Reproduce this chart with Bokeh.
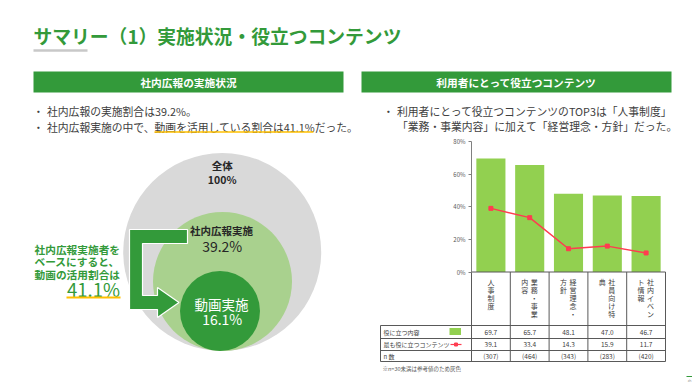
from bokeh.plotting import figure
from bokeh.models import Range1d, LinearAxis, FixedTicker, PrintfTickFormatter
from bokeh.embed import file_html
from bokeh.resources import INLINE
from bokeh.core.properties import value

# ---------------- data ----------------
categories = ["人事制度", "業務・事業内容", "経営理念・方針", "社員向け特典", "社内イベント情報"]
useful = [69.7, 65.7, 48.1, 47.0, 46.7]
most_useful = [39.1, 33.4, 14.3, 15.9, 11.7]
n_counts = [307, 464, 343, 283, 420]
y_ticks = [0, 20, 40, 60, 80]
row_labels = ["役に立つ内容", "最も役に立つコンテンツ", "n 数"]
overall_pct = 100
pr_pct = 39.2
video_pct = 16.1
video_share = 41.1

# ---------------- style ----------------
FONT = value("Noto Sans CJK JP")
GREEN = "#339a3a"
LIGHT_GREEN = "#a9d18e"
GRAY_CIRCLE = "#d9d9d9"
BAR_GREEN = "#92d050"
RED = "#ff3c50"
ORANGE = "#ffc000"
TXT = "#404040"

PW, PH = 692, 382
p = figure(width=PW, height=PH, x_range=Range1d(0, PW), y_range=Range1d(PH, 0),
           output_backend="svg", toolbar_location=None,
           x_axis_location=None, y_axis_location=None, min_border=0,
           outline_line_color=None, background_fill_color="white")
p.grid.visible = False

def txt(x, y, s, size, color=TXT, align="left", bold=False, baseline="middle", **kw):
    p.text(x=[x], y=[y], text=[s], text_font=FONT, text_font_size=f"{size}px",
           text_color=color, text_align=align, text_baseline=baseline,
           text_font_style="bold" if bold else "normal", **kw)

# ---------------- header ----------------
txt(33, 35, "サマリー（1）実施状況・役立つコンテンツ", 18.8, color=GREEN, bold=True)
p.segment(x0=[33], y0=[50], x1=[87], y1=[50], line_color="#c8c8c8", line_width=2.5)

p.quad(left=[33, 361], right=[343, 671], top=[71, 71], bottom=[92, 92],
       fill_color=GREEN, line_color=None)
txt(188, 81.5, "社内広報の実施状況", 10.7, color="white", align="center", bold=True)
txt(516, 81.5, "利用者にとって役立つコンテンツ", 10.7, color="white", align="center", bold=True)

# bullets left
txt(38, 110, "・", 10.8, align="center")
txt(46.5, 110, f"社内広報の実施割合は{pr_pct}%。", 10.8)
txt(38, 126, "・", 10.8, align="center")
txt(46.5, 126, f"社内広報実施の中で、動画を活用している割合は{video_share}%だった。", 10.8)
p.segment(x0=[154], y0=[131.5], x1=[313], y1=[131.5], line_color=ORANGE, line_width=1.3)

# bullets right
txt(388, 110, "・", 10.8, align="center")
txt(396.5, 110, "利用者にとって役立つコンテンツのTOP3は「人事制度」", 10.8)
txt(396.5, 125.5, "「業務・事業内容」に加えて「経営理念・方針」だった。", 10.8)

# ---------------- left: nested circles ----------------
p.circle(x=[221.7], y=[251.5], radius=99, fill_color=GRAY_CIRCLE, line_color=None)
p.circle(x=[222], y=[281], radius=69.5, fill_color=LIGHT_GREEN, line_color=None)
p.circle(x=[219.5], y=[310.5], radius=40, fill_color=GREEN, line_color=None)

# elbow arrow
ax = [129, 187, 187, 142, 142, 157, 157, 178.5, 157, 157, 129]
ay = [229, 229, 243, 243, 295, 295, 287, 302, 317, 309, 309]
p.patch(ax, ay, fill_color=GREEN, line_color="white", line_width=1.2)

txt(221.7, 165, "全体", 10.5, color="#262626", align="center", bold=True)
txt(221.7, 178.5, f"{overall_pct}%", 10.5, color="#262626", align="center", bold=True)
txt(221, 229.5, "社内広報実施", 10.5, color="#262626", align="center", bold=True)
txt(221.7, 245, f"{pr_pct}%", 14, color="#262626", align="center")
txt(221, 303, "動画実施", 13.5, color="white", align="center")
txt(221.7, 318.5, f"{video_pct}%", 14, color="white", align="center")

txt(34, 248.5, "社内広報実施者を", 10.7, color=GREEN, bold=True)
txt(34, 261, "ベースにすると、", 10.7, color=GREEN, bold=True)
txt(34, 273.5, "動画の活用割合は", 10.7, color=GREEN, bold=True)
txt(66.5, 288, f"{video_share}%", 18.5, color=GREEN)
p.segment(x0=[66], y0=[297], x1=[120], y1=[297], line_color=ORANGE, line_width=2)

# ---------------- right: bar chart ----------------
AX_LEFT = 471.0
SLOT = 38.8
PY0, PY80 = 271.5, 141.3
cx0 = AX_LEFT + SLOT / 2
ppu = (PY0 - PY80) / 80.0
p.extra_x_ranges = {"cat": Range1d((0 - cx0) / SLOT, (PW - cx0) / SLOT)}
p.extra_y_ranges = {"pct": Range1d((PY0 - PH) / ppu, (PY0 - 0) / ppu)}

idx = list(range(len(categories)))
p.vbar(x=idx, top=useful, bottom=0, width=0.75, x_range_name="cat", y_range_name="pct",
       fill_color=BAR_GREEN, line_color=None)
p.line(x=idx, y=most_useful, x_range_name="cat", y_range_name="pct",
       line_color=RED, line_width=1.5)
p.scatter(x=idx, y=most_useful, x_range_name="cat", y_range_name="pct",
          marker="square", size=4, fill_color=RED, line_color=RED)

yax = LinearAxis(y_range_name="pct", fixed_location=AX_LEFT,
                 ticker=FixedTicker(ticks=y_ticks),
                 formatter=PrintfTickFormatter(format="%d%%"), bounds=(0, 80))
yax.major_label_text_font_size = "6px"
yax.major_label_text_color = "#595959"
yax.major_label_text_font = "Noto Sans CJK JP"
yax.axis_line_color = "#808080"
yax.major_tick_line_color = "#808080"
yax.major_tick_out = 3
yax.major_tick_in = 0
yax.minor_tick_out = 0
yax.minor_tick_in = 0
yax.major_label_standoff = 3
p.add_layout(yax, "left")

# ---------------- table ----------------
TL, TR = 380, 665
ROW_Y = [325, 338, 350, 361]
LINE = "#595959"
p.segment(x0=[AX_LEFT], y0=[PY0], x1=[TR], y1=[PY0], line_color=LINE, line_width=1)
p.segment(x0=[TL] * 4, y0=ROW_Y, x1=[TR] * 4, y1=ROW_Y, line_color=LINE, line_width=1)
p.segment(x0=[TL], y0=[ROW_Y[0]], x1=[TL], y1=[ROW_Y[-1]], line_color=LINE, line_width=1)
bounds_x = [i - 0.5 for i in range(len(categories) + 1)]
p.segment(x0=bounds_x, y0=[PY0] * len(bounds_x), x1=bounds_x, y1=[ROW_Y[-1]] * len(bounds_x),
          x_range_name="cat", line_color=LINE, line_width=1)

# vertical category labels
for i, cat in enumerate(categories):
    chunks = [cat[k:k + 5] for k in range(0, len(cat), 5)]
    offsets = [0] if len(chunks) == 1 else [4.5, -5]
    for chunk, off in zip(chunks, offsets):
        p.text(x=[i], y=[276], text=["\n".join(chunk)], x_range_name="cat",
               x_offset=off, text_font=FONT, text_font_size="7px", text_color=TXT,
               text_align="center", text_baseline="top", text_line_height=0.82)

row_c = [(ROW_Y[k] + ROW_Y[k + 1]) / 2 for k in range(3)]
for k, lab in enumerate(row_labels):
    txt(383, row_c[k], lab, 6, color=TXT)

p.text(x=idx, y=[row_c[0]] * 5, text=[f"{v:.1f}" for v in useful], x_range_name="cat",
       text_font=FONT, text_font_size="6.5px", text_color=TXT, text_align="center",
       text_baseline="middle")
p.text(x=idx, y=[row_c[1]] * 5, text=[f"{v:.1f}" for v in most_useful], x_range_name="cat",
       text_font=FONT, text_font_size="6.5px", text_color=TXT, text_align="center",
       text_baseline="middle")
p.text(x=idx, y=[row_c[2]] * 5, text=[f"({v})" for v in n_counts], x_range_name="cat",
       text_font=FONT, text_font_size="6.5px", text_color=TXT, text_align="center",
       text_baseline="middle")

# legend swatches in table
p.quad(left=[449], right=[460.5], top=[327.5], bottom=[334.5], fill_color=BAR_GREEN, line_color=None)
p.segment(x0=[450], y0=[344], x1=[461], y1=[344], line_color=RED, line_width=1.2)
p.scatter(x=[455.5], y=[344], marker="square", size=3, fill_color=RED, line_color=RED)

txt(382, 368.5, "※n=30未満は参考値のため灰色", 5.5, color="#595959")

# footer mark
p.segment(x0=[686], y0=[376], x1=[692], y1=[376], line_color=GREEN, line_width=1)
txt(691, 380, "©", 4.5, color="#808080", align="right")

open("out.html", "w").write(file_html(p, INLINE))
